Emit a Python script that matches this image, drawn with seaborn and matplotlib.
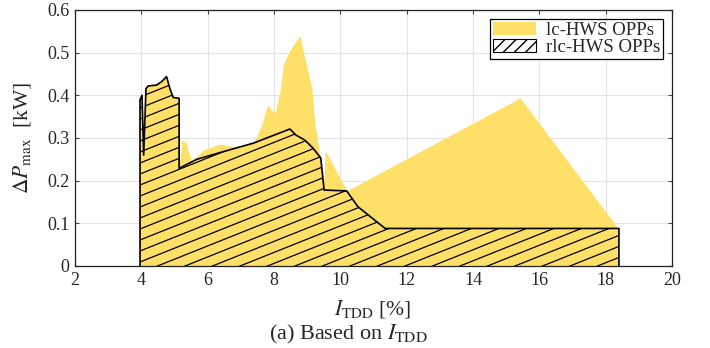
import numpy as np
import pandas as pd
import seaborn as sns
import matplotlib
matplotlib.use("Agg")
import matplotlib.pyplot as plt
from matplotlib.patches import Patch, Polygon
from matplotlib.lines import Line2D

# ---- data ----
rlc_x = [3.96, 3.96, 4.02, 4.07, 4.14, 4.21, 4.46, 4.61, 4.76, 4.86, 4.96, 5.14, 5.14,
         5.67, 6.47, 7.38, 8.48, 8.66, 8.93, 9.18, 9.41, 9.51, 10.19, 10.53, 11.35, 18.40, 18.40]
rlc_y = [0.0, 0.39, 0.40, 0.26, 0.416, 0.422, 0.424, 0.432, 0.444, 0.416, 0.395, 0.393, 0.229,
         0.25, 0.268, 0.288, 0.321, 0.307, 0.295, 0.276, 0.253, 0.178, 0.176, 0.139, 0.088, 0.088, 0.0]

lc_x = [3.96, 3.96, 4.02, 4.07, 4.14, 4.21, 4.46, 4.61, 4.76, 4.86, 4.96, 5.14, 5.14,
        5.22, 5.35, 5.52, 5.87, 6.37, 6.67, 7.03, 7.38, 7.63, 7.80, 8.03, 8.18, 8.28, 8.48,
        8.78, 8.93, 9.14, 9.24, 9.39, 9.41, 9.51, 9.54, 10.19, 15.42, 18.38, 18.40]
lc_y = [0.0, 0.39, 0.40, 0.26, 0.416, 0.422, 0.424, 0.432, 0.444, 0.416, 0.395, 0.393, 0.229,
        0.295, 0.288, 0.245, 0.272, 0.286, 0.281, 0.28, 0.288, 0.33, 0.377, 0.358, 0.409, 0.471, 0.506,
        0.540, 0.487, 0.416, 0.33, 0.256, 0.253, 0.20, 0.272, 0.176, 0.394, 0.088, 0.0]

x_ticks = [2, 4, 6, 8, 10, 12, 14, 16, 18, 20]
y_ticks = [0, 0.1, 0.2, 0.3, 0.4, 0.5, 0.6]
y_ticklabels = ["0", "0.1", "0.2", "0.3", "0.4", "0.5", "0.6"]
series_names = ["lc-HWS OPPs", "rlc-HWS OPPs"]

YELLOW = "#FEDF68"

sns.set_style("whitegrid", {"grid.color": "#e3e3e3", "axes.edgecolor": "black"})
plt.rcParams["font.family"] = ["Liberation Serif", "DejaVu Serif"]
plt.rcParams["mathtext.fontset"] = "stix"

fig = plt.figure(figsize=(7.10, 3.48), dpi=100)
ax = fig.add_axes([75 / 710, 1 - 266 / 348, (672 - 75) / 710, (266 - 10) / 348])

# lc-HWS envelope
ax.fill_between(lc_x, lc_y, 0, color=YELLOW, linewidth=0, zorder=2)

# rlc-HWS: yellow fill + custom shallow hatch + black outline
poly = Polygon(np.column_stack([rlc_x, rlc_y]), closed=True, facecolor=YELLOW,
               edgecolor="none", zorder=3, transform=ax.transData)
ax.add_patch(poly)
slope = 0.40 * 597 / 256   # pixel slope converted to axes units
spacing = 11.0 / 256
for k in np.arange(-60, 40):
    b = k * spacing
    ln = Line2D([0, 1], [b, b + slope], transform=ax.transAxes, color="black",
                linewidth=0.9, zorder=4)
    ln.set_clip_path(poly)
    ax.add_line(ln)
df_outline = pd.DataFrame({"x": rlc_x, "y": rlc_y})
sns.lineplot(data=df_outline, x="x", y="y", sort=False, estimator=None, color="black",
             linewidth=1.2, ax=ax, zorder=5)

ax.set_xlim(2, 20)
ax.set_ylim(0, 0.6)
ax.set_xticks(x_ticks)
ax.set_xticklabels([str(t) for t in x_ticks])
ax.set_yticks(y_ticks)
ax.set_yticklabels(y_ticklabels)
ax.tick_params(axis="both", which="major", labelsize=13, direction="in", length=3,
               width=0.8, color="#444444", top=True, right=True, bottom=True, left=True, pad=4)
for s in ax.spines.values():
    s.set_color("#222222")
    s.set_linewidth(0.9)
    s.set_zorder(6)

ax.set_xlabel("")
ax.set_ylabel("")
fig.text(373 / 710, 1 - 309 / 348, r"$I_{\mathrm{TDD}}$ [%]",
         ha="center", va="center", fontsize=15.5)
fig.text(22 / 710, 1 - 138 / 348, r"$\Delta P_{\mathrm{max}}$  [kW]",
         ha="center", va="center", rotation=90, fontsize=15.5)
fig.text(348 / 710, 1 - 334 / 348, r"(a) Based on $I_{\mathrm{TDD}}$",
         ha="center", va="center", fontsize=16)

handles = [Patch(facecolor=YELLOW, edgecolor="none", label=series_names[0]),
           Patch(facecolor="white", edgecolor="black", hatch="///", linewidth=0.8,
                 label=series_names[1])]
leg = ax.legend(handles=handles, loc="upper right", fontsize=13.5, frameon=True,
                fancybox=False, edgecolor="black", framealpha=1, borderpad=0.15,
                labelspacing=0.0, handlelength=2.3, handleheight=0.7, handletextpad=0.5,
                borderaxespad=0.5)
leg.get_frame().set_linewidth(0.9)
leg.set_zorder(10)

fig.savefig("out.png", dpi=100)
